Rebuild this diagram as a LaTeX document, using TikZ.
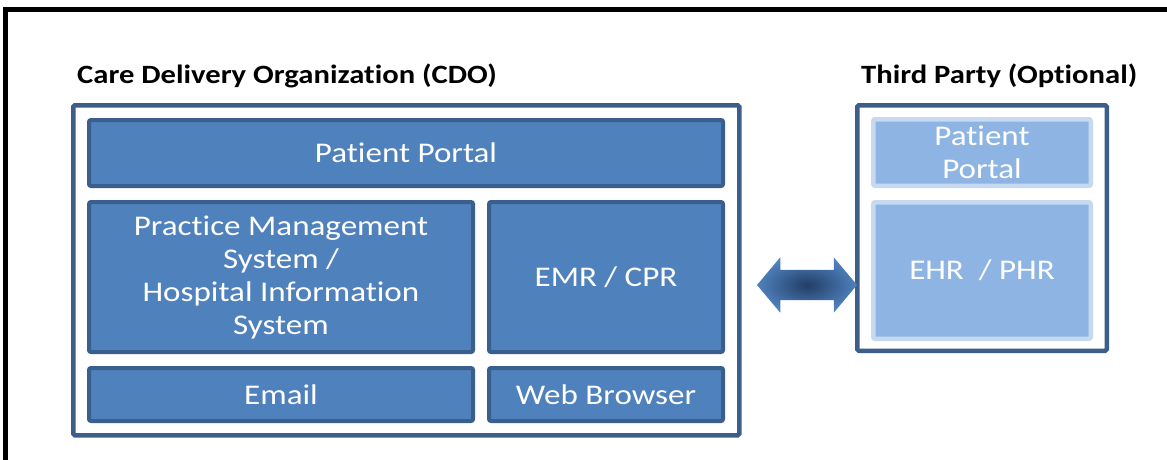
\documentclass[tikz,border=0pt]{standalone}
\usepackage{fontspec}
\setmainfont{Carlito}[FakeStretch=1.16, Ligatures=NoCommon]
\usepackage{tikz}
\usetikzlibrary{positioning, shapes.arrows}
\usepackage{xcolor}
\definecolor{tile-blue}{HTML}{4F81BD}
\definecolor{tile-edge}{HTML}{3A5F8C}
\definecolor{box-edge}{HTML}{3C5E8A}
\definecolor{light-blue}{HTML}{8EB4E3}
\definecolor{light-edge}{HTML}{C6D9F1}
\definecolor{arrow-dark}{HTML}{223E66}

\begin{document}
\begin{tikzpicture}[x=1pt, y=-1pt,
	outerbox/.style={draw=box-edge, line width=4.5pt, fill=white, rounded corners=1.5pt, anchor=north west},
	darktile/.style={draw=tile-edge, line width=4pt, fill=tile-blue, rounded corners=2pt, text=white, align=center, font=\fontsize{28.5}{33}\selectfont},
	lighttile/.style={draw=light-edge, line width=4.5pt, fill=light-blue, rounded corners=2pt, text=white, align=center, font=\fontsize{28.5}{33}\selectfont},
	title/.style={font=\bfseries\fontsize{26.4}{30}\selectfont, inner sep=0pt, anchor=base west}]
	\clip (0,0) rectangle (1167,459);
	\draw[line width=5pt] (5.5,9) rectangle (1200,500);
	% care delivery organization
	\node[title] (cdotitle) at (77,83) {Care Delivery Organization (CDO)};
	\node[outerbox, minimum width=666pt, minimum height=330pt] (cdo) at (71,103) {};
	\node[darktile, minimum width=634pt, minimum height=66pt, below right=15pt and 16pt of cdo.north west] (portal) {Patient Portal};
	\node[darktile, minimum width=384pt, minimum height=150pt, below=12pt of portal.south west, anchor=north west] (pms) {Practice Management\\System /\\Hospital Information\\System};
	\node[darktile, minimum width=234pt, minimum height=150pt, right=12pt of pms.north east, anchor=north west] (emr) {EMR / CPR};
	\node[darktile, minimum width=384pt, minimum height=53pt, below=12pt of pms.south west, anchor=north west] (email) {Email};
	\node[darktile, minimum width=234pt, minimum height=53pt, right=12pt of email.north east, anchor=north west] (web) {Web Browser};
	% third party
	\node[title] (tptitle) at (861,83) {Third Party (Optional)};
	\node[outerbox, minimum width=249.5pt, minimum height=245.5pt] (tp) at (855,103) {};
	\node[lighttile, minimum width=217.5pt, minimum height=66.5pt, below right=14pt and 16pt of tp.north west] (tpportal) {Patient\\Portal};
	\node[lighttile, minimum width=217.5pt, minimum height=136.5pt, below=12pt of tpportal.south west, anchor=north west] (ehr) {EHR\ \ / PHR};
	% link
	\node[double arrow, shading=radial, inner color=arrow-dark, outer color=tile-blue, inner sep=0pt, minimum height=100pt, minimum width=55pt, double arrow head extend=12.5pt, double arrow tip angle=100, text height=30pt, text depth=0pt, text width=0pt] (link) at (807,285) {};
\end{tikzpicture}
\end{document}
